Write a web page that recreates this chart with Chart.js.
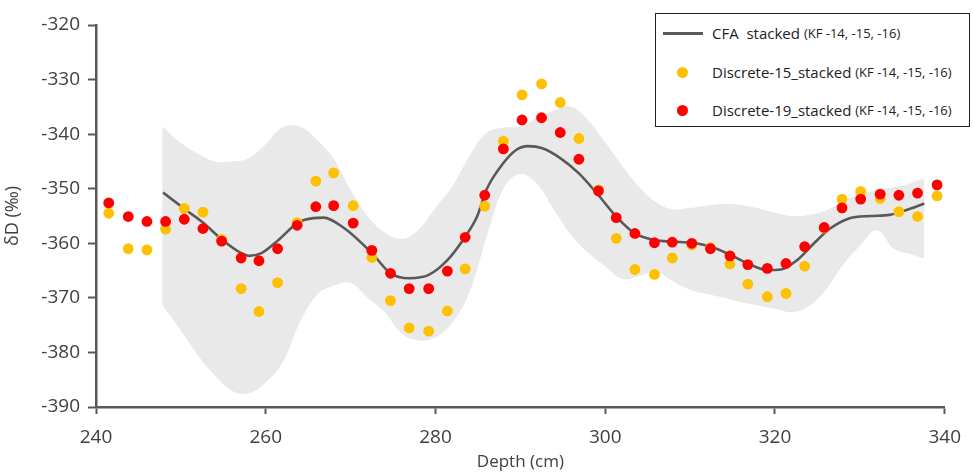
<!DOCTYPE html>
<html>
<head>
<meta charset="utf-8">
<script src="https://cdn.jsdelivr.net/npm/chart.js@4"></script>
<style>
  html, body { margin: 0; padding: 0; background: #fff; }
  #wrap { position: relative; width: 973px; height: 472px; font-family: "Open Sans", sans-serif; }
  #legend { position: absolute; left: 655px; top: 13px; width: 313px; height: 112px;
            border: 1.5px solid #222; background: #fff; box-sizing: content-box; }
  .row { position: absolute; left: 0; height: 20px; display: flex; align-items: center; white-space: pre; color: #222; }
  .sym { width: 56px; height: 20px; position: relative; }
  .txt { font-size: 15px; white-space: pre; }
  .kf { font-size: 13px; white-space: pre; }
</style>
</head>
<body>
<div id="wrap">
  <canvas id="c" width="973" height="472"></canvas>
  <div id="legend"></div>
</div>
<script>
// ---------- data ----------
const depth = [241.5, 243.8, 246.0, 248.2, 250.4, 252.6, 254.8, 257.1, 259.2, 261.4,
  263.7, 265.9, 268.0, 270.3, 272.5, 274.7, 276.9, 279.2, 281.4, 283.5,
  285.8, 288.0, 290.2, 292.5, 294.7, 296.9, 299.2, 301.3, 303.5, 305.8,
  307.9, 310.2, 312.4, 314.7, 316.8, 319.1, 321.3, 323.5, 325.8, 327.9,
  330.1, 332.4, 334.6, 336.8, 339.1];

const discrete15 = [-354.5, -361.0, -361.2, -357.4, -353.6, -354.3, -359.3, -368.3, -372.5, -367.2,
  -356.2, -348.6, -347.1, -353.1, -362.6, -370.5, -375.5, -376.1, -372.4, -364.7,
  -353.2, -341.3, -332.8, -330.8, -334.2, -340.8, -350.2, -359.1, -364.8, -365.7,
  -362.7, -360.3, -360.8, -363.8, -367.5, -369.8, -369.2, -364.2, -357.2, -351.9,
  -350.5, -351.8, -354.2, -355.1, -351.3];

const discrete19 = [-352.6, -355.1, -356.0, -356.0, -355.6, -357.3, -359.6, -362.7, -363.2, -361.0,
  -356.7, -353.3, -353.1, -356.3, -361.3, -365.5, -368.3, -368.3, -365.1, -358.9,
  -351.2, -342.7, -337.4, -337.0, -339.7, -344.6, -350.4, -355.3, -358.2, -359.9,
  -359.8, -360.0, -361.0, -362.3, -363.9, -364.6, -363.7, -360.6, -357.1, -353.5,
  -351.9, -351.0, -351.2, -350.8, -349.3];

const cfaDepth = [247.9, 250.6, 252.6, 254.9, 257.1, 258.0, 259.5, 261.5, 263.7, 264.6,
  266.8, 269.3, 272.5, 274.7, 276.9, 279.2, 281.4, 283.5, 284.9, 286.0,
  288.0, 289.5, 290.9, 292.6, 294.7, 296.9, 299.2, 301.3, 303.5, 305.8,
  307.9, 310.2, 312.4, 314.7, 316.8, 319.1, 320.7, 322.6, 324.6, 326.5,
  328.8, 331.2, 333.5, 335.5, 337.6];
const cfaValue = [-350.7, -353.9, -356.2, -359.4, -361.8, -362.3, -361.8, -359.4, -356.3, -355.7,
  -355.3, -357.3, -361.8, -365.5, -366.4, -365.8, -363.1, -358.8, -355.1, -350.2,
  -345.3, -342.9, -342.2, -342.6, -344.4, -347.2, -351.2, -355.1, -358.2, -359.4,
  -359.7, -359.9, -360.6, -362.1, -363.7, -364.9, -364.8, -363.1, -360.0, -357.3,
  -355.4, -355.0, -354.8, -353.9, -352.7];

const bandDepth = [247.8, 250, 252, 254, 256, 258, 260, 262, 264, 266,
  268, 270, 272, 274, 276, 278, 280, 282, 284, 286,
  288, 290, 292, 294, 296, 298, 300, 302, 304, 306,
  308, 310, 312, 314, 316, 318, 320, 322, 324, 326,
  328, 330, 332, 334, 336, 337.6];
const bandUpper = [-338.6, -341.6, -343.6, -345.0, -345.0, -344.4, -341.8, -338.8, -338.6, -341.0,
  -344.5, -350.2, -355.0, -358.0, -359.2, -357.5, -353.5, -349.5, -344.0, -339.8,
  -338.8, -338.6, -337.0, -335.6, -335.0, -337.5, -341.5, -345.8, -349.7, -352.5,
  -353.8, -353.5, -353.1, -352.8, -353.0, -353.6, -354.4, -355.0, -354.8, -354.0,
  -352.3, -351.0, -350.3, -349.7, -349.0, -348.1];
const bandLower = [-371.3, -376.0, -380.5, -384.2, -387.0, -387.5, -385.5, -381.8, -374.6, -369.5,
  -367.8, -367.3, -370.0, -372.6, -376.5, -377.8, -377.2, -374.5, -369.0, -359.0,
  -350.0, -347.3, -349.2, -354.0, -358.5, -361.8, -364.2, -366.5, -366.0, -365.2,
  -367.0, -368.5, -369.3, -370.0, -370.8, -371.4, -372.0, -372.6, -371.5, -368.5,
  -364.0, -360.5, -357.6, -361.0, -362.0, -362.8];

const xTicks = [240, 260, 280, 300, 320, 340];
const yTicks = [-390, -380, -370, -360, -350, -340, -330, -320];

const labels = {
  cfa: ["CFA  stacked ", "(KF -14, -15, -16)"],
  d15: ["Discrete-15_stacked ", "(KF -14, -15, -16)"],
  d19: ["Discrete-19_stacked ", "(KF -14, -15, -16)"],
  x: "Depth (cm)",
  y: "δD (‰)"
};

// ---------- styles ----------
const C_YEL = "#FFC000", C_RED = "#FF0000", C_LINE = "#595959", C_BAND = "#e9e9e9", C_AX = "#595959";

const pts = (xs, ys) => xs.map((x, i) => ({ x: x, y: ys[i] }));

const tickFont = { family: "'Open Sans', sans-serif", size: 19 };

new Chart(document.getElementById("c"), {
  type: "scatter",
  data: {
    datasets: [
      { label: "upper", data: pts(bandDepth, bandUpper), showLine: true, borderWidth: 0,
        borderColor: "rgba(0,0,0,0)", pointRadius: 0, fill: false, tension: 0.4, order: 4 },
      { label: "lower", data: pts(bandDepth, bandLower), showLine: true, borderWidth: 0,
        borderColor: "rgba(0,0,0,0)", pointRadius: 0, fill: "-1", backgroundColor: C_BAND, tension: 0.4, order: 3 },
      { label: labels.cfa.join(""), data: pts(cfaDepth, cfaValue), showLine: true, borderColor: C_LINE,
        borderWidth: 2.6, pointRadius: 0, fill: false, cubicInterpolationMode: "monotone", order: 2 },
      { label: labels.d15.join(""), data: pts(depth, discrete15), pointRadius: 5.4, pointBackgroundColor: C_YEL,
        pointBorderWidth: 0, borderColor: C_YEL, order: 1 },
      { label: labels.d19.join(""), data: pts(depth, discrete19), pointRadius: 5.4, pointBackgroundColor: C_RED,
        pointBorderWidth: 0, borderColor: C_RED, order: 0 }
    ]
  },
  options: {
    responsive: false,
    animation: false,
    layout: { padding: { top: 25, right: 21, left: 0, bottom: 0 } },
    plugins: { legend: { display: false }, tooltip: { enabled: false } },
    scales: {
      x: {
        type: "linear", min: 240, max: 340,
        afterBuildTicks: s => { s.ticks = xTicks.map(v => ({ value: v })); },
        afterFit: s => { s.height = 65; },
        ticks: { color: "#404040", font: tickFont, padding: 12, maxRotation: 0 },
        grid: { display: true, drawOnChartArea: false, drawTicks: true, tickLength: 7, tickColor: C_AX, tickWidth: 2 },
        border: { display: true, color: C_AX, width: 2.5 },
        title: { display: true, text: labels.x, color: "#404040",
                 font: { family: "'Open Sans', sans-serif", size: 17 }, padding: { top: 0, bottom: 0 } }
      },
      y: {
        type: "linear", min: -390, max: -320,
        afterBuildTicks: s => { s.ticks = yTicks.map(v => ({ value: v })); },
        afterFit: s => { s.width = 96; },
        ticks: { color: "#404040", font: tickFont, padding: 8 },
        grid: { display: true, drawOnChartArea: false, drawTicks: true, tickLength: 8, tickColor: C_AX, tickWidth: 2 },
        border: { display: true, color: C_AX, width: 2.5 },
        title: { display: true, text: labels.y, color: "#404040",
                 font: { family: "'Open Sans', sans-serif", size: 18 }, padding: { top: 2, bottom: 0 } }
      }
    }
  }
});

// ---------- HTML legend ----------
const legend = document.getElementById("legend");
const rows = [
  { lab: labels.cfa, kind: "line", color: C_LINE, top: 9 },
  { lab: labels.d15, kind: "dot", color: C_YEL, top: 48 },
  { lab: labels.d19, kind: "dot", color: C_RED, top: 86 }
];
rows.forEach(r => {
  const row = document.createElement("div");
  row.className = "row";
  row.style.top = r.top + "px";
  const sym = document.createElement("div");
  sym.className = "sym";
  const mark = document.createElement("div");
  mark.style.position = "absolute";
  if (r.kind === "line") {
    mark.style.left = "7px"; mark.style.top = "9px"; mark.style.width = "40px";
    mark.style.height = "2.5px"; mark.style.background = r.color;
  } else {
    mark.style.left = "21px"; mark.style.top = "5px"; mark.style.width = "11px";
    mark.style.height = "11px"; mark.style.borderRadius = "50%"; mark.style.background = r.color;
  }
  sym.appendChild(mark);
  row.appendChild(sym);
  const t = document.createElement("span");
  t.className = "txt"; t.textContent = r.lab[0];
  const k = document.createElement("span");
  k.className = "kf"; k.textContent = r.lab[1];
  row.appendChild(t); row.appendChild(k);
  legend.appendChild(row);
});
</script>
</body>
</html>
